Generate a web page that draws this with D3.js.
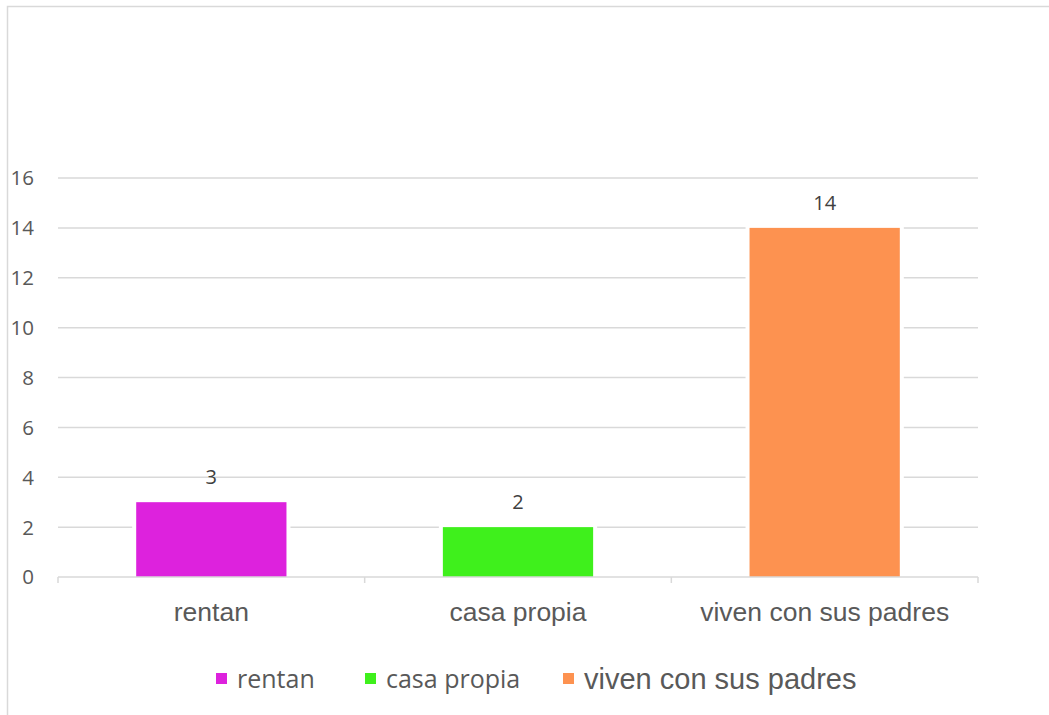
<!DOCTYPE html>
<meta charset="utf-8">
<style>
body { margin: 0; background: #fff; }
.grid line { stroke: #d9d9d9; stroke-width: 1.5px; }
</style>
<body>
<script src="https://d3js.org/d3.v7.min.js"></script>
<script>
// data
var categories = ["rentan", "casa propia", "viven con sus padres"];
var values = [3, 2, 14];
var colors = ["#dd22dd", "#3ff01c", "#fd9250"];
var yTicks = [0, 2, 4, 6, 8, 10, 12, 14, 16];

var W = 1049, H = 715;
var margin = {top: 178, right: 71, bottom: 138, left: 58},
    width = W - margin.left - margin.right,
    height = H - margin.top - margin.bottom;

var svg = d3.select("body").append("svg")
    .attr("width", W)
    .attr("height", H);

// chart border (left + top only visible)
svg.append("path")
    .attr("d", "M7.5,715 L7.5,6.5 L1049,6.5")
    .attr("fill", "none")
    .attr("stroke", "#d9d9d9")
    .attr("stroke-width", 1.5);

var g = svg.append("g")
    .attr("transform", "translate(" + margin.left + "," + margin.top + ")");

var x = d3.scaleBand().domain(categories).range([0, width]).paddingInner(0.51).paddingOuter(0.255);
var xb = d3.scaleBand().domain(categories).range([0, width]);
var y = d3.scaleLinear().domain([0, 16]).range([height, 0]);

// gridlines
g.append("g").attr("class", "grid")
  .selectAll("line")
  .data(yTicks.filter(function(d) { return d > 0; }))
  .enter().append("line")
    .attr("x1", 0).attr("x2", width)
    .attr("y1", function(d) { return y(d); })
    .attr("y2", function(d) { return y(d); });

// y labels
g.selectAll(".ylab")
  .data(yTicks)
  .enter().append("text")
    .attr("class", "ylab")
    .attr("x", -24)
    .attr("y", function(d) { return y(d); })
    .attr("dy", "0.36em")
    .attr("text-anchor", "end")
    .style("font", "20.5px 'Open Sans'")
    .style("fill", "#595959")
    .text(function(d) { return d; });

// bars with white outline
g.selectAll(".barbg")
  .data(values)
  .enter().append("rect")
    .attr("x", function(d, i) { return x(categories[i]) - 4; })
    .attr("y", function(d) { return y(d) - 3; })
    .attr("width", x.bandwidth() + 8)
    .attr("height", function(d) { return height - y(d) + 3; })
    .attr("fill", "#fff");

g.selectAll(".bar")
  .data(values)
  .enter().append("rect")
    .attr("x", function(d, i) { return x(categories[i]); })
    .attr("y", function(d) { return y(d); })
    .attr("width", x.bandwidth())
    .attr("height", function(d) { return height - y(d); })
    .attr("fill", function(d, i) { return colors[i]; });

// data labels
g.selectAll(".vlab")
  .data(values)
  .enter().append("text")
    .attr("x", function(d, i) { return x(categories[i]) + x.bandwidth() / 2; })
    .attr("y", function(d) { return y(d) - 18; })
    .attr("text-anchor", "middle")
    .style("font", "20px 'Open Sans'")
    .style("fill", "#404040")
    .text(function(d) { return d; });

// x axis
var xAxis = g.append("g").attr("transform", "translate(0," + height + ")");
xAxis.append("line")
    .attr("x1", 0).attr("x2", width)
    .attr("stroke", "#d9d9d9").attr("stroke-width", 1.5);
xAxis.selectAll(".tick")
  .data(d3.range(categories.length + 1))
  .enter().append("line")
    .attr("x1", function(i) { return i * xb.step(); })
    .attr("x2", function(i) { return i * xb.step(); })
    .attr("y1", 0).attr("y2", 6)
    .attr("stroke", "#d9d9d9").attr("stroke-width", 1.5);
xAxis.selectAll(".xlab")
  .data(categories)
  .enter().append("text")
    .attr("x", function(d) { return xb(d) + xb.bandwidth() / 2; })
    .attr("y", 44)
    .attr("text-anchor", "middle")
    .style("font", "26.5px 'Liberation Sans'")
    .style("fill", "#595959")
    .text(function(d) { return d; });

// legend
var legendItems = [
  {name: categories[0], color: colors[0], sq: 216, tx: 237, font: "25px 'Open Sans'"},
  {name: categories[1], color: colors[1], sq: 365, tx: 386, font: "25px 'Open Sans'"},
  {name: categories[2], color: colors[2], sq: 563, tx: 584, font: "29px 'Liberation Sans'"}
];
var legend = svg.selectAll(".legend")
  .data(legendItems)
  .enter().append("g");
legend.append("rect")
    .attr("x", function(d) { return d.sq; })
    .attr("y", 673)
    .attr("width", 11).attr("height", 11)
    .attr("fill", function(d) { return d.color; });
legend.append("text")
    .attr("x", function(d) { return d.tx; })
    .attr("y", 679)
    .attr("dy", "0.35em")
    .style("font", function(d) { return d.font; })
    .style("fill", "#595959")
    .text(function(d) { return d.name; });
</script>
</body>
